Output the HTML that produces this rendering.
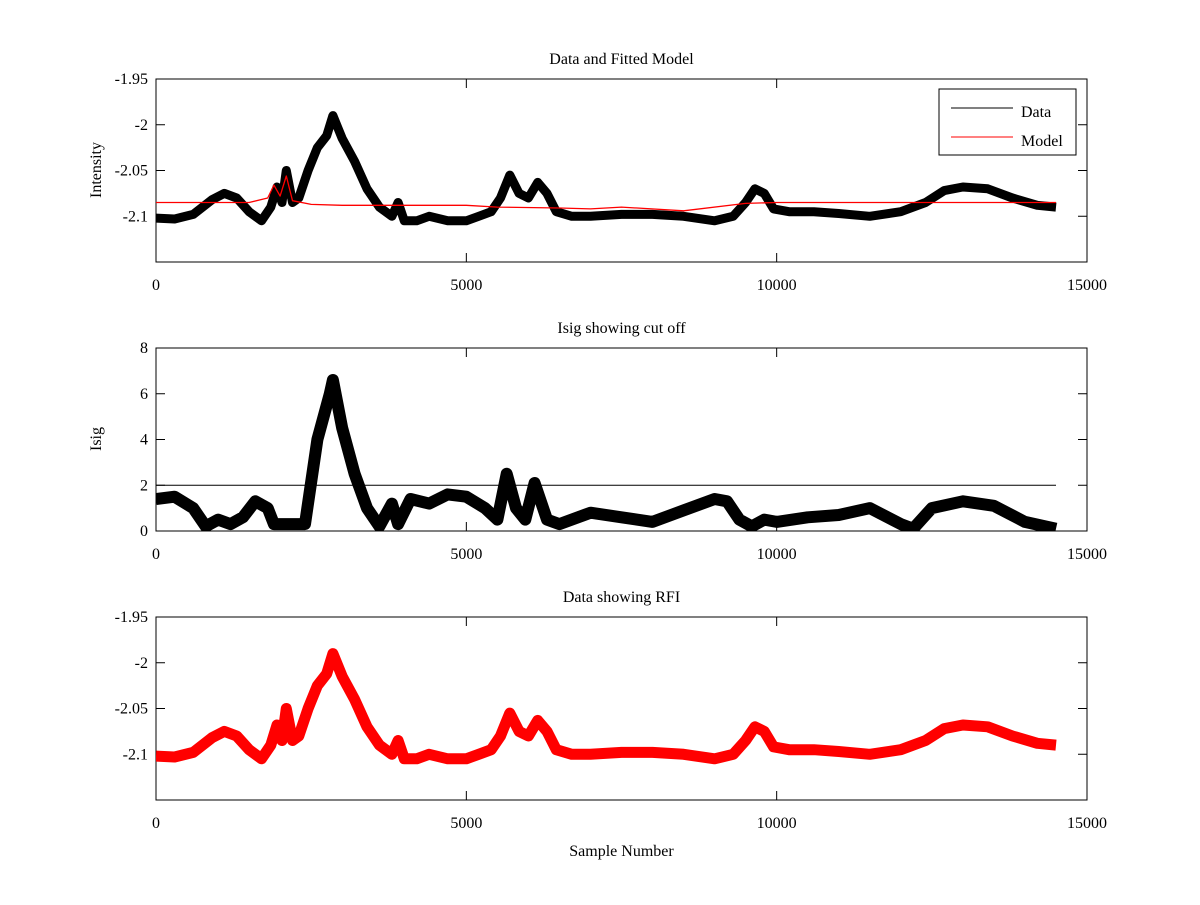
<!DOCTYPE html>
<html><head><meta charset="utf-8">
<style>
body{margin:0;background:#fff;}
svg text{font-family:"Liberation Serif",serif;font-size:16px;fill:#000;}
</style></head>
<body>
<svg id="chart" width="1200" height="900" xmlns="http://www.w3.org/2000/svg">
<rect width="1200" height="900" fill="#fff"/>
</svg>
<script>
const dataX=[0,300,600,900,1100,1300,1500,1700,1850,1950,2030,2100,2200,2300,2450,2600,2750,2850,3000,3200,3400,3600,3800,3900,4000,4200,4400,4700,5000,5200,5400,5550,5700,5850,6000,6150,6300,6450,6700,7000,7500,8000,8500,9000,9300,9500,9650,9800,9950,10200,10600,11000,11500,12000,12400,12700,13000,13400,13800,14200,14500];
const dataY=[-2.102,-2.103,-2.098,-2.082,-2.075,-2.08,-2.095,-2.105,-2.09,-2.068,-2.085,-2.05,-2.085,-2.08,-2.05,-2.025,-2.012,-1.99,-2.015,-2.04,-2.07,-2.09,-2.1,-2.085,-2.105,-2.105,-2.1,-2.105,-2.105,-2.1,-2.095,-2.08,-2.055,-2.075,-2.08,-2.063,-2.075,-2.095,-2.1,-2.1,-2.098,-2.098,-2.1,-2.105,-2.1,-2.085,-2.07,-2.075,-2.092,-2.095,-2.095,-2.097,-2.1,-2.095,-2.085,-2.072,-2.068,-2.07,-2.08,-2.088,-2.09];
const modelX=[0,1500,1800,1900,2000,2100,2200,2500,3000,5000,5500,6500,7000,7500,8500,9500,10000,14500];
const modelY=[-2.085,-2.085,-2.08,-2.066,-2.078,-2.056,-2.083,-2.087,-2.088,-2.088,-2.09,-2.091,-2.092,-2.09,-2.094,-2.086,-2.085,-2.085];
const isigX=[0,300,600,800,1000,1200,1400,1600,1800,1900,2200,2400,2600,2800,2850,3000,3200,3400,3600,3800,3900,4100,4400,4700,5000,5300,5500,5650,5800,5950,6100,6300,6500,7000,7500,8000,8500,9000,9200,9400,9600,9800,10000,10500,11000,11500,12000,12200,12500,13000,13500,14000,14500];
const isigY=[1.4,1.5,1.0,0.2,0.5,0.3,0.6,1.3,1.0,0.3,0.3,0.3,4,6,6.6,4.5,2.5,1.0,0.2,1.2,0.3,1.4,1.2,1.6,1.5,1.0,0.5,2.5,1.0,0.5,2.1,0.5,0.3,0.8,0.6,0.4,0.9,1.4,1.3,0.5,0.2,0.5,0.4,0.6,0.7,1.0,0.3,0.1,1.0,1.3,1.1,0.4,0.1];
const cutoff=2;
const xTicks=[0,5000,10000,15000];
const yTicksA=[-1.95,-2,-2.05,-2.1];
const yTicksB=[0,2,4,6,8];

const NS="http://www.w3.org/2000/svg";
const svg=document.getElementById('chart');
const L=156,R=1087;
function el(t,a,p){const e=document.createElementNS(NS,t);for(const k in a)e.setAttribute(k,a[k]);(p||svg).appendChild(e);return e;}
const xs=v=>L+(v/15000)*(R-L);
function panel(top,ymin,ymax,yt,title,ylabel,name){
  const bot=top+183;
  const ys=v=>bot-(v-ymin)/(ymax-ymin)*183;
  const g=el('g',{});
  
  
  const cid='clip'+top;
  const cp=el('clipPath',{id:cid},g);el('rect',{x:L,y:top,width:R-L,height:183},cp);
  el('rect',{x:L,y:top,width:R-L,height:183,fill:'none',stroke:'#000','stroke-width':1},g);
  xTicks.forEach(t=>{const x=xs(t);
    el('line',{x1:x,x2:x,y1:bot,y2:bot-9,stroke:'#000'},g);el('line',{x1:x,x2:x,y1:top,y2:top+9,stroke:'#000'},g);
    const tx=el('text',{x:x,y:bot+28,'text-anchor':'middle'},g);tx.textContent=t;
    });
  yt.forEach(t=>{const y=ys(t);
    el('line',{x1:L,x2:L+9,y1:y,y2:y,stroke:'#000'},g);el('line',{x1:R,x2:R-9,y1:y,y2:y,stroke:'#000'},g);
    const tx=el('text',{x:L-8,y:y+5,'text-anchor':'end'},g);tx.textContent=String(t);
    });
  const tt=el('text',{x:(L+R)/2,y:top-15,'text-anchor':'middle'},g);tt.textContent=title;
  
  if(ylabel){const yl=el('text',{x:0,y:0,'text-anchor':'middle',transform:`translate(${L-55},${top+91}) rotate(-90)`},g);yl.textContent=ylabel;
    }
  const pg=el('g',{'clip-path':`url(#${cid})`},g);
  return {ys,pg,bot};
}
function line(p,X,Y,ys,col,w,name){
  const pts=X.map((x,i)=>xs(x).toFixed(1)+','+ys(Y[i]).toFixed(1)).join(' ');
  const pl=el('polyline',{points:pts,fill:'none',stroke:col,'stroke-width':w,'stroke-linejoin':'round'},p);
  
}
const p1=panel(79,-2.15,-1.95,yTicksA,'Data and Fitted Model','Intensity','panel-data-model');
line(p1.pg,dataX,dataY,p1.ys,'#000',9,'data-line');
line(p1.pg,modelX,modelY,p1.ys,'#f00',1.3,'model-line');
const p2=panel(348,0,8,yTicksB,'Isig showing cut off','Isig','panel-isig');
line(p2.pg,isigX,isigY,p2.ys,'#000',12,'isig-line');
line(p2.pg,[0,14500],[cutoff,cutoff],p2.ys,'#000',1,'cutoff-line');
const p3=panel(617,-2.15,-1.95,yTicksA,'Data showing RFI',null,'panel-rfi');
line(p3.pg,dataX,dataY,p3.ys,'#f00',11,'rfi-line');
const xl=el('text',{x:(L+R)/2,y:856,'text-anchor':'middle'});xl.textContent='Sample Number';

// legend
const lg=el('g',{});

el('rect',{x:939,y:89,width:137,height:66,fill:'#fff',stroke:'#000'},lg);
el('line',{x1:951,x2:1013,y1:108,y2:108,stroke:'#000'},lg);
el('line',{x1:951,x2:1013,y1:137,y2:137,stroke:'#f00'},lg);
const t1=el('text',{x:1021,y:117},lg);t1.textContent='Data';

const t2=el('text',{x:1021,y:146},lg);t2.textContent='Model';

</script>
</body></html>
